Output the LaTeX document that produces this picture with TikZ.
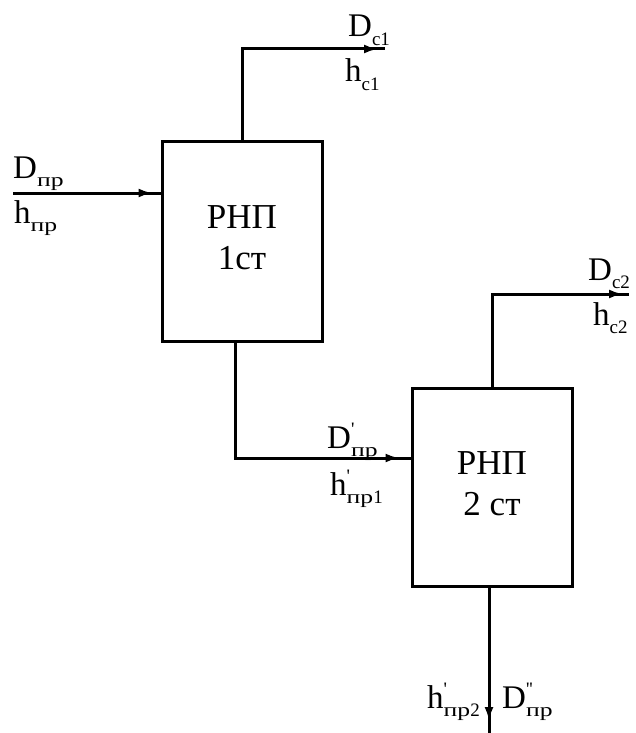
\documentclass[tikz,border=0pt]{standalone}
\usepackage{fontspec}
\setmainfont{Liberation Serif}
\usetikzlibrary{arrows.meta,decorations.markings}
% subscript / superscript for the flow labels
\newcommand{\sbs}[1]{\raisebox{-0.25em}{\fontsize{19}{19}\selectfont #1}}
\newcommand{\sbw}[1]{\raisebox{-0.25em}{\fontsize{19}{19}\selectfont\scalebox{1.35}[1]{#1}}}
\newcommand{\sps}[1]{\makebox[0pt][l]{\raisebox{0.38em}{\fontsize{19}{19}\selectfont #1}}}
\newcommand{\pr}{\textquotesingle}

\begin{document}
\begin{tikzpicture}[x=1pt,y=-1pt]
\tikzstyle{blk}=[rectangle,draw=black,line width=3pt,minimum width=160pt,minimum height=200pt,font=\fontsize{35}{41}\selectfont]
\tikzstyle{lbl}=[anchor=base west,inner sep=0pt,font=\fontsize{33}{38}\selectfont]
\tikzstyle{flow}=[draw=black,line width=3pt]
\tikzset{flowtip/.style={decoration={markings,mark=at position #1 with {\arrow{Latex[length=14pt,width=9pt]}}},postaction=decorate}}
\useasboundingbox (0,0) rectangle (635,733);
\node (st1) [blk] at (242,241) {\raisebox{9pt}{\begin{tabular}{@{}c@{}}РНП\\1ст\end{tabular}}};
\node (st2) [blk,minimum height=198pt] at (492,487) {\raisebox{5pt}{\begin{tabular}{@{}c@{}}РНП\\2 ст\end{tabular}}};
\coordinate (in1) at (13,193);
\coordinate (out1) at (385,49);
\coordinate (j2) at (235,458);
\coordinate (out2) at (629,294);
\coordinate (out3) at (489,733);
\draw [flow,flowtip=-8pt] (in1) -- (in1 -| st1.west);
\draw [flow,flowtip=-7pt] (st1.north) |- (out1);
\draw [flow,flowtip=-11pt] (st1.south -| j2) -- (j2) -- (j2 -| st2.west);
\draw [flow,flowtip=-6pt] (st2.north) |- (out2);
\draw [flow,flowtip=-12pt] (st2.south -| out3) -- (out3);
% labels
\node (dpr) [lbl] at (13,178) {D\sbw{пр}};
\node (hpr) [lbl] at (14,223) {h\sbw{пр}};
\node (dc1) [lbl] at (348,37) {D\sbs{с1}};
\node (hc1) [lbl] at (345,82) {h\sbs{с1}};
\node (dpr1) [lbl] at (327,448) {D\sps{\pr}\sbw{пр}};
\node (hpr1) [lbl] at (330,495) {h\sps{\pr}\sbw{пр}\sbs{1}};
\node (dc2) [lbl] at (588,280) {D\sbs{с2}};
\node (hc2) [lbl] at (593,325) {h\sbs{с2}};
\node (hpr2) [lbl] at (427,708) {h\sps{\pr}\sbw{пр}\sbs{2}};
\node (dpr2) [lbl] at (502,708) {D\sps{\pr\pr}\sbw{пр}};
\end{tikzpicture}
\end{document}
